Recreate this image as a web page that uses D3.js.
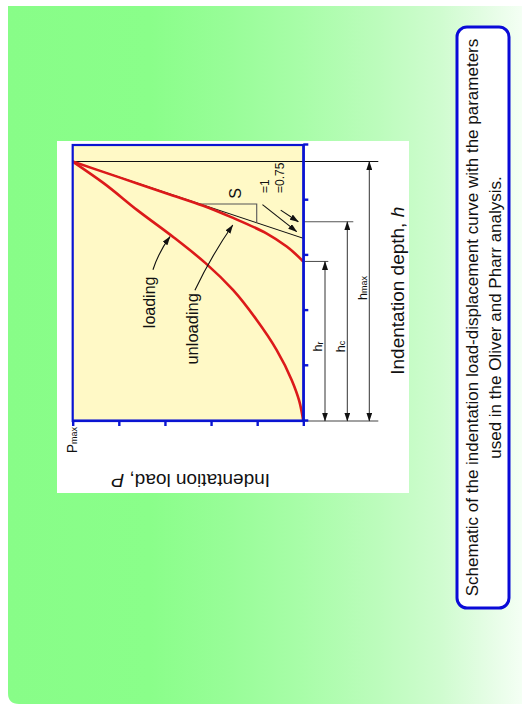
<!DOCTYPE html>
<html>
<head>
<meta charset="utf-8">
<script src="https://cdn.jsdelivr.net/npm/d3@7"></script>
<style>
  html, body { margin: 0; padding: 0; background: #ffffff; }
  svg { display: block; font-family: "Liberation Sans", Arial, sans-serif; }
</style>
</head>
<body>
<svg id="chart" width="522" height="712"></svg>
<script>
// ---------------- data (arbitrary units, h and P on 0..5 scales) ----------------
const hTicks = [0, 1, 2, 3, 4, 5];
const pTicks = [0, 1, 2, 3, 4, 5];

const loadingH = [0, 0.37, 0.74, 1.29, 1.83, 2.37, 2.86, 3.32, 3.82, 4.31, 4.70];
const loadingP = [0, 0.09, 0.25, 0.58, 1.01, 1.52, 2.12, 2.80, 3.60, 4.33, 5.00];

const unloadingH = [2.89, 3.16, 3.40, 3.67, 3.90, 4.10, 4.40, 4.70];
const unloadingP = [0, 0.36, 0.80, 1.50, 2.17, 2.88, 3.94, 5.00];

const hMax = 4.70;      // maximum depth
const hC = 3.61;        // contact depth
const hR = 2.89;        // residual depth
const hTangent = 3.31;  // intercept of unloading tangent (epsilon = 1)
const pMax = 5.0;
const slopeCorner = [3.93, 1.01]; // corner of the stiffness triangle (h, P)

const dimNames = [["h", "r"], ["h", "c"], ["h", "max"]];
const dimValues = [hR, hC, hMax];

const captionLines = [
  "Schematic of the indentation load-displacement curve with the parameters",
  "used in the Oliver and Pharr analysis."
];

// ---------------- page background ----------------
const svg = d3.select("#chart");
const defs = svg.append("defs");

const grad = defs.append("linearGradient")
  .attr("id", "bg").attr("gradientUnits", "userSpaceOnUse")
  .attr("x1", 8).attr("y1", 0).attr("x2", 522).attr("y2", 0);
[[0, "#88fd88"], [0.276, "#8afe8a"], [0.43, "#98fd98"], [0.57, "#a8fda8"],
 [0.72, "#bcfcbc"], [0.84, "#cffccf"], [0.94, "#e6fde6"], [1, "#f4fff4"]]
  .forEach(([o, c]) => grad.append("stop").attr("offset", o).attr("stop-color", c));

svg.append("path")
  .attr("d", "M8,6 H522 V704 H19 Q8,704 8,693 Z")
  .attr("fill", "url(#bg)");

// arrow markers
defs.append("marker")
  .attr("id", "arr").attr("markerUnits", "userSpaceOnUse")
  .attr("markerWidth", 9).attr("markerHeight", 6)
  .attr("refX", 8.5).attr("refY", 3).attr("orient", "auto-start-reverse")
  .append("path").attr("d", "M0,0 L9,3 L0,6 Z").attr("fill", "#111");

// white chart card
svg.append("rect").attr("x", 57).attr("y", 141).attr("width", 352).attr("height", 352)
  .attr("fill", "#ffffff");

// ---------------- chart (drawn unrotated, then turned -90deg) ----------------
const W = 276, H = 230.6;
const x = d3.scaleLinear().domain([0, 5]).range([0, W]);
const y = d3.scaleLinear().domain([0, 5]).range([H, 0]);

const g = svg.append("g").attr("transform", "translate(72.7,421) rotate(-90)");

g.append("rect").attr("x", 0).attr("y", 0).attr("width", W).attr("height", H)
  .attr("fill", "#fff9c6");

const blue = "#0a14d2";

// extension lines (below the x axis)
const extLen = [25, 50, 75];
g.append("line").attr("x1", x(0)).attr("x2", x(0)).attr("y1", H).attr("y2", H + 75)
  .attr("stroke", "#444").attr("stroke-width", 1.2);
dimValues.forEach((hv, i) => {
  g.append("line")
    .attr("x1", x(hv)).attr("x2", x(hv))
    .attr("y1", i === 2 ? y(pMax) : H).attr("y2", H + extLen[i])
    .attr("stroke", i === 2 ? "#111" : "#555").attr("stroke-width", 1.1);
});

// dimension lines with double arrows
const dimOff = [21.7, 44, 66];
dimValues.forEach((hv, i) => {
  g.append("line")
    .attr("x1", x(0)).attr("x2", x(hv))
    .attr("y1", H + dimOff[i]).attr("y2", H + dimOff[i])
    .attr("stroke", "#333").attr("stroke-width", 1)
    .attr("marker-start", "url(#arr)").attr("marker-end", "url(#arr)");
});
const dimLabelH = [1.35, 1.35, 2.41];
dimNames.forEach((nm, i) => {
  const t = g.append("text")
    .attr("x", x(dimLabelH[i])).attr("y", H + dimOff[i] - 2.5)
    .attr("text-anchor", "middle").attr("fill", "#111")
    .attr("font-size", 12.5);
  t.append("tspan").text(nm[0]);
  t.append("tspan").attr("font-size", 9).attr("dy", 0.5).text(nm[1]);
});

// tangent line (stiffness S)
g.append("line")
  .attr("x1", x(hMax)).attr("y1", y(pMax))
  .attr("x2", x(hTangent)).attr("y2", y(0))
  .attr("stroke", "#111").attr("stroke-width", 1);

// slope triangle
const tanP = h => pMax * (h - hTangent) / (hMax - hTangent);
const tanH = p => hTangent + p * (hMax - hTangent) / pMax;
g.append("path")
  .attr("d", d3.line()([
    [x(slopeCorner[0]), y(tanP(slopeCorner[0]))],
    [x(slopeCorner[0]), y(slopeCorner[1])],
    [x(tanH(slopeCorner[1])), y(slopeCorner[1])]
  ]))
  .attr("fill", "none").attr("stroke", "#555").attr("stroke-width", 1.1);

// hmax horizontal-in-picture line through Pmax (in original: vertical at hmax)
// (drawn above as extension of hmax)

// curves
const lineGen = d3.line().x(d => x(d[0])).y(d => y(d[1])).curve(d3.curveMonotoneX);
g.append("path")
  .attr("d", lineGen(loadingH.map((h, i) => [h, loadingP[i]])))
  .attr("fill", "none").attr("stroke", "#dc1a1a").attr("stroke-width", 2.6);
g.append("path")
  .attr("d", lineGen(unloadingH.map((h, i) => [h, unloadingP[i]])))
  .attr("fill", "none").attr("stroke", "#dc1a1a").attr("stroke-width", 2.6);

// frame and axes
g.append("rect").attr("x", 0).attr("y", 0).attr("width", W).attr("height", H)
  .attr("fill", "none").attr("stroke", blue).attr("stroke-width", 2.2);

const xAxis = g.append("g").attr("transform", `translate(0,${H})`)
  .call(d3.axisBottom(x).tickValues(hTicks).tickFormat("").tickSize(5).tickSizeOuter(0));
const yAxis = g.append("g")
  .call(d3.axisLeft(y).tickValues(pTicks).tickFormat("").tickSize(5).tickSizeOuter(0));
[xAxis, yAxis].forEach(a => {
  a.select(".domain").attr("stroke", blue).attr("stroke-width", 2.2);
  a.selectAll(".tick line").attr("stroke", blue).attr("stroke-width", 2.4);
});

// annotations
const ann = (txt, h, p, size, anchor) => g.append("text")
  .attr("x", x(h)).attr("y", y(p)).attr("font-size", size)
  .attr("text-anchor", anchor).attr("fill", "#111").text(txt);

ann("loading", 2.15, 3.22, 16, "middle");
ann("unloading", 1.67, 2.28, 16.5, "middle");
ann("S", 4.125, 1.35, 16, "middle");
ann("=1", 4.13, 0.744, 12, "start");
ann("=0.75", 4.13, 0.412, 12, "start");

// leaders with arrows
const leader = (a, b, bend) => {
  const mx = (x(a[0]) + x(b[0])) / 2, my = (y(a[1]) + y(b[1])) / 2;
  const dx = x(b[0]) - x(a[0]), dy = y(b[1]) - y(a[1]);
  const len = Math.hypot(dx, dy);
  const cx = mx - dy / len * bend, cy = my + dx / len * bend;
  g.append("path")
    .attr("d", `M${x(a[0])},${y(a[1])} Q${cx},${cy} ${x(b[0])},${y(b[1])}`)
    .attr("fill", "none").attr("stroke", "#111").attr("stroke-width", 1.1)
    .attr("marker-end", "url(#arr)");
};
leader([2.74, 3.26], [3.34, 2.89], -3);
leader([2.37, 2.35], [3.55, 1.53], -3);
leader([3.92, 0.885], [3.43, 0.143], 0);
leader([3.82, 0.49], [3.61, 0.108], 0);

// Pmax label
const pm = g.append("text").attr("x", -6).attr("y", y(pMax) + 4)
  .attr("text-anchor", "end").attr("fill", "#111").attr("font-size", 14);
pm.append("tspan").text("P");
pm.append("tspan").attr("font-size", 9).attr("dy", 0.5).text("max");

// axis titles
g.append("text").attr("x", x(2.36)).attr("y", H + 100.7)
  .attr("text-anchor", "middle").attr("font-size", 19).attr("fill", "#111")
  .call(t => { t.append("tspan").text("Indentation depth, ");
               t.append("tspan").attr("font-style", "italic").text("h"); });

g.append("text")
  .attr("transform", `translate(-53,${y(2.44)}) rotate(-90)`)
  .attr("text-anchor", "middle").attr("font-size", 19).attr("fill", "#111")
  .call(t => { t.append("tspan").text("Indentation load, ");
               t.append("tspan").attr("font-style", "italic").text("P"); });

// ---------------- caption box ----------------
svg.append("rect").attr("x", 457).attr("y", 27).attr("width", 52).attr("height", 581)
  .attr("rx", 10).attr("fill", "#ffffff").attr("stroke", "#0a0ad8").attr("stroke-width", 3);
const cap = svg.append("g").attr("transform", "translate(0,317.5)");
captionLines.forEach((ln, i) => {
  cap.append("text")
    .attr("transform", `translate(${478 + i * 22.5},0) rotate(-90)`)
    .attr("text-anchor", "middle").attr("font-size", 17).attr("fill", "#111")
    .text(ln);
});
</script>
</body>
</html>
